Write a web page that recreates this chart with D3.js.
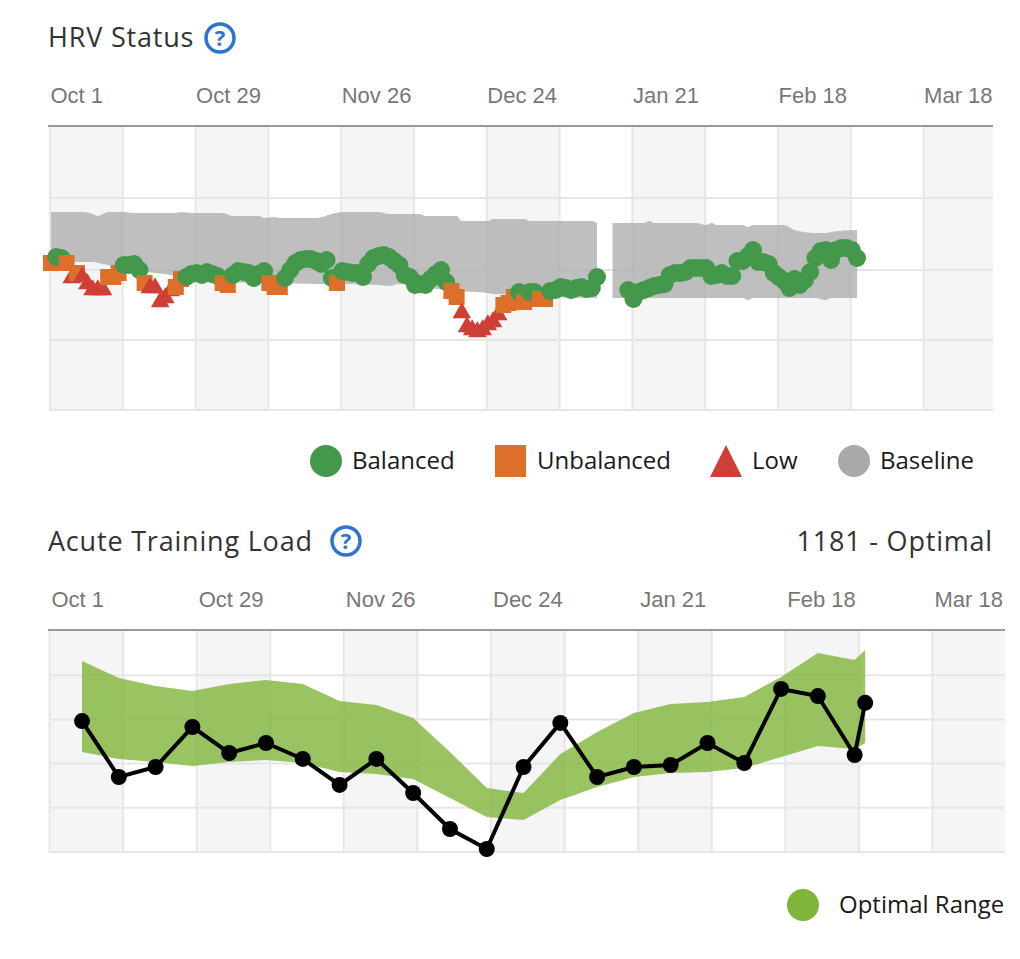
<!DOCTYPE html>
<html>
<head>
<meta charset="utf-8">
<title>HRV Status</title>
<script src="https://cdn.jsdelivr.net/npm/d3@7"></script>
<style>
  html, body { margin: 0; padding: 0; background: #fff; }
  svg { display: block; }
  .title { font-family: "Open Sans", sans-serif; fill: #333; font-size: 27px; letter-spacing: 0.8px; }
  .legend { font-family: "Open Sans", sans-serif; fill: #1a1a1a; font-size: 24px; }
  .tick text { font-family: "Liberation Sans", Arial, sans-serif; fill: #777; font-size: 22px; }
</style>
</head>
<body>
<svg id="chart" width="1020" height="959"></svg>
<script>
// tick labels, one every 28 days, grid every 14
var gridDays = d3.range(0, 169, 14);
var dateLabels = ["Oct 1", "Oct 29", "Nov 26", "Dec 24", "Jan 21", "Feb 18", "Mar 18"];

// HRV per day since Oct 1 (ms), null = no reading
var hrvValues = [73.5,76.5,76,73.5,66,68.5,66.5,63,60,60,60,66.5,66.5,68.5,72.5,72.5,73,70,63.5,61,
  61,54,56,59.5,61.5,65.5,66.5,68,68.5,67.5,69,68,67,63.5,62.5,67.5,69.5,69,68.5,66,
  68,69.5,63.5,61.5,61.5,66,70,73.5,75,75.5,75.5,74.5,73,75,66,63.5,69.5,69,68.5,68.5,
  66.5,73,76,77,77.5,76.5,74.5,72.5,67.5,66.5,62.5,63,62.5,65.5,68,70,64,59.5,56.5,48.5,
  41.5,40,39,40,42.5,44,47.5,52.5,53.5,56.5,59,54,59,59,55.5,55.5,59.5,60,61.5,61,
  60,61,61.5,60.5,61,66.5,null,null,null,null,null,60,55.5,59,60,61,62,62.5,63,67.5,
  68.5,68.5,69,71,71,71,71,67,67.5,68.5,67,67,74.5,74.5,77,80,74,74,73,68.5,
  66.5,64.5,61,65.5,62.5,65,69,76,79.5,80,75,80,81,81,80,76];

// B balanced, U unbalanced, L low, - none
var hrvStatus = ("UBBULULLLLLUUUBBBBULLLLLUUBBBBBBBUUBBBBBBBUUUBBBBBBBBBBU" +
  "BBBBBBBBBBBBBBBBBBBBBUULLLLLLLLUUUBUBBUUBBBBBBBBBB-----" +
  "BBBBBBBBBBBBBBBBBBBBBBBBBBBBBBBBBBBBBBBBBBBBB").split("");

// baseline range (ms)
var baseDays = [0,6,8,9,11,14,16,24,25,27,33,35,40,41,43,44,51,54,56,63,65,67,71,72,78,79,84,85,91,92,104,105,null,108,114,115,116,124,126,127,128,133,134,135,141,143,147,149,150,155];
var baseHigh = [99,99,98,97,99,99,98.5,98.5,99,98.5,98.5,97,97,96,96.5,96,96,98,99,99,98,98,98,97,97,94.5,94.5,95.5,95.5,94.5,94.5,93.5,null,93.5,93.5,94.5,93.5,93.5,92.5,93.5,92.5,92.5,91.5,92.5,92.5,90,88.5,88.5,89,90];
var baseLow = [74,74,74,73.5,72.5,71,70,67,66.5,66,64.5,64,63.5,63.5,63.5,63.5,63,63,63,62.5,62,63,61.5,61,60,59.5,58.5,58,57.5,57,56,56,null,56,56,56,56,56,56,56,56,56,55,56,56,56,56,55,56,56];

// acute training load, weekly
var atlDays = [6,13,20,27,34,41,48,55,62,69,76,83,90,97,104,111,118,125,132,139,146,153,155];
var atlValues = [1037,594,673,990,784,863,737,531,737,467,182,24,673,1022,594,673,689,863,705,1291,1235,768,1181];
var atlHigh = [1513,1378,1315,1275,1331,1362,1331,1196,1164,1061,792,507,467,776,950,1101,1172,1188,1228,1386,1576,1521,1600];
var atlLow = [792,737,713,681,713,729,705,634,618,578,428,277,253,412,515,594,626,634,665,752,840,816,863];

var svg = d3.select("#chart");

// shaded columns, grid and date axis shared by both panels
function drawFrame(x, y, yTicks, left, right, top, bottom, axisY, labelShift) {
  var gx = d => Math.max(left, x(d) - 1);
  var colEdges = gridDays.map(gx).concat([right]);

  svg.append("g").selectAll("rect")
    .data(d3.range(0, colEdges.length - 1, 2))
    .enter().append("rect")
    .attr("x", i => colEdges[i])
    .attr("width", i => colEdges[i + 1] - colEdges[i])
    .attr("y", top)
    .attr("height", bottom - top)
    .attr("fill", "#f5f5f5");

  svg.append("g").selectAll("line")
    .data(gridDays)
    .enter().append("line")
    .attr("x1", gx).attr("x2", gx)
    .attr("y1", top).attr("y2", bottom)
    .attr("stroke", "#e6e6e6").attr("stroke-width", 2);

  svg.append("g").selectAll("line")
    .data(yTicks)
    .enter().append("line")
    .attr("x1", left).attr("x2", right)
    .attr("y1", y).attr("y2", y)
    .attr("stroke", "#e6e6e6").attr("stroke-width", 2);

  svg.append("line")
    .attr("x1", left - 1).attr("x2", right)
    .attr("y1", top).attr("y2", top)
    .attr("stroke", "#999").attr("stroke-width", 2);

  var axis = d3.axisTop(x)
    .tickValues(gridDays.filter(d => d % 28 == 0))
    .tickSize(0)
    .tickFormat((d, i) => dateLabels[i]);
  var g = svg.append("g").attr("transform", "translate(0," + axisY + ")").call(axis);
  g.select(".domain").remove();
  g.selectAll("text").attr("text-anchor", "start").attr("dy", 0).attr("y", 0).attr("dx", labelShift);
}

function helpIcon(cx, cy) {
  svg.append("circle").attr("cx", cx).attr("cy", cy).attr("r", 14)
    .attr("fill", "#fff").attr("stroke", "#2f72d0").attr("stroke-width", 3.5);
  svg.append("text").attr("x", cx).attr("y", cy + 8).attr("text-anchor", "middle")
    .attr("font-family", "Open Sans").attr("font-weight", 700).attr("font-size", 22)
    .attr("fill", "#2f72d0").text("?");
}

// ---- HRV status ----
var xHrv = d3.scaleLinear().domain([0, 155]).range([51, 857]);
var yHrv = d3.scaleLinear().domain([0, 141.5]).range([410, 127]);

svg.append("text").attr("class", "title").attr("x", 48).attr("y", 47).text("HRV Status");
helpIcon(220, 38);
drawFrame(xHrv, yHrv, [35, 70, 106, 0], 49, 993, 126, 410, 103, -1);

var baseArea = d3.area()
  .defined(i => baseDays[i] != null)
  .x(i => xHrv(baseDays[i]))
  .y0(i => yHrv(baseLow[i]))
  .y1(i => yHrv(baseHigh[i]))
  .curve(d3.curveMonotoneX);

svg.append("path")
  .attr("d", baseArea(d3.range(baseDays.length)))
  .attr("fill", "#a9a9a9").attr("opacity", 0.75);

var statusColor = { B: "#43984b", U: "#dd6f2b", L: "#cf3f35" };
var statusSymbol = { B: d3.symbolCircle, U: d3.symbolSquare, L: d3.symbolTriangle };
var statusSize = { B: 254, U: 256, L: 150 };

// later days sit on top of earlier ones
svg.append("g").selectAll("path")
  .data(d3.range(hrvValues.length).filter(i => hrvValues[i] != null))
  .enter().append("path")
  .attr("transform", i => "translate(" + xHrv(i) + "," + yHrv(hrvValues[i]) + ")")
  .attr("d", i => d3.symbol().type(statusSymbol[hrvStatus[i]]).size(statusSize[hrvStatus[i]])())
  .attr("fill", i => statusColor[hrvStatus[i]]);

// legend
svg.append("circle").attr("cx", 326).attr("cy", 461).attr("r", 16).attr("fill", statusColor.B);
svg.append("text").attr("class", "legend").attr("x", 352).attr("y", 469).text("Balanced");
svg.append("rect").attr("x", 495).attr("y", 445).attr("width", 31).attr("height", 32).attr("fill", statusColor.U);
svg.append("text").attr("class", "legend").attr("x", 537).attr("y", 469).text("Unbalanced");
svg.append("path").attr("d", "M726,445L742,477L710,477Z").attr("fill", statusColor.L);
svg.append("text").attr("class", "legend").attr("x", 752).attr("y", 469).text("Low");
svg.append("circle").attr("cx", 854).attr("cy", 461).attr("r", 16).attr("fill", "#a9a9a9");
svg.append("text").attr("class", "legend").attr("x", 880).attr("y", 469).text("Baseline");

// ---- Acute training load ----
var xAtl = d3.scaleLinear().domain([0, 168]).range([50.5, 933.5]);
var yAtl = d3.scaleLinear().domain([0, 1750]).range([852, 631]);

svg.append("text").attr("class", "title").attr("x", 48).attr("y", 551).text("Acute Training Load");
helpIcon(346, 541);
svg.append("text").attr("class", "title").attr("x", 993).attr("y", 551)
  .attr("text-anchor", "end").text("1181 - Optimal");
drawFrame(xAtl, yAtl, [350, 700, 1050, 1400, 0], 49, 1005, 630, 852, 607, 0.5);

var atlArea = d3.area()
  .x(i => xAtl(atlDays[i]))
  .y0(i => yAtl(atlLow[i]))
  .y1(i => yAtl(atlHigh[i]));

svg.append("path")
  .attr("d", atlArea(d3.range(atlDays.length)))
  .attr("fill", "#7fb539").attr("opacity", 0.8);

var atlLine = d3.line()
  .x(i => xAtl(atlDays[i]))
  .y(i => yAtl(atlValues[i]));

svg.append("path")
  .attr("d", atlLine(d3.range(atlDays.length)))
  .attr("fill", "none").attr("stroke", "#000").attr("stroke-width", 4);

svg.append("g").selectAll("circle")
  .data(d3.range(atlDays.length))
  .enter().append("circle")
  .attr("cx", i => xAtl(atlDays[i]))
  .attr("cy", i => yAtl(atlValues[i]))
  .attr("r", 8)
  .attr("fill", "#000");

svg.append("circle").attr("cx", 803).attr("cy", 905).attr("r", 16).attr("fill", "#7fb539");
svg.append("text").attr("class", "legend").attr("x", 839).attr("y", 913).text("Optimal Range");
</script>
</body>
</html>
